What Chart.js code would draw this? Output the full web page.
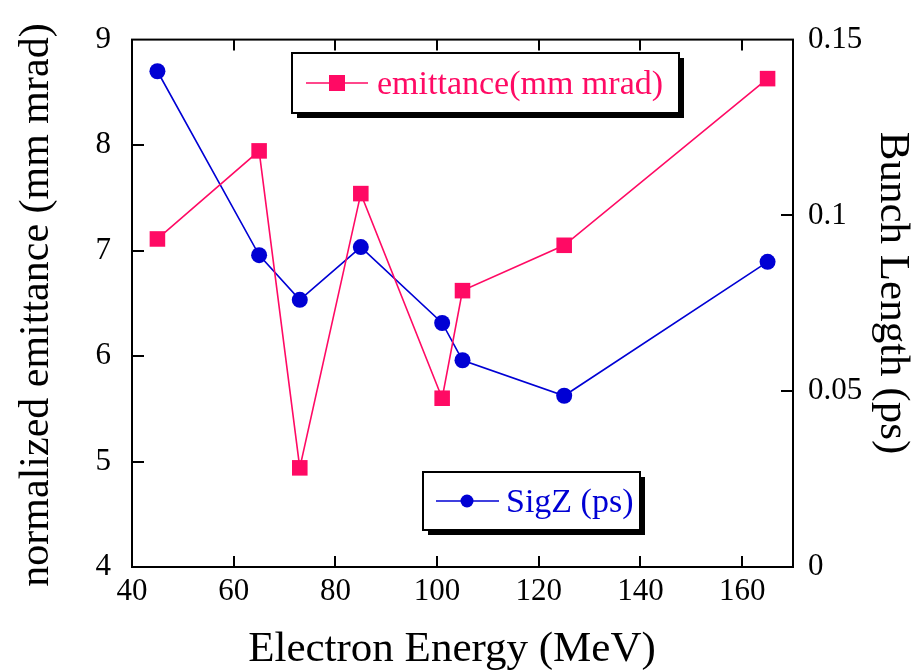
<!DOCTYPE html>
<html>
<head>
<meta charset="utf-8">
<script src="https://cdn.jsdelivr.net/npm/chart.js@4.4.1/dist/chart.umd.min.js"></script>
<style>
  html, body { margin: 0; padding: 0; background: #ffffff; }
  #wrap { width: 920px; height: 671px; }
</style>
</head>
<body>
<div id="wrap"><canvas id="c" width="920" height="671"></canvas></div>
<script>
// Measured beam data versus electron energy
const energies    = [45, 65, 73, 85, 101, 105, 125, 165];
const emittance   = [7.11, 7.945, 4.94, 7.54, 5.6, 6.62, 7.05, 8.63];
const bunchLength = [0.141, 0.0887, 0.076, 0.091, 0.0694, 0.0588, 0.0487, 0.0868];

// Axis ticks
const xTicks = [40, 60, 80, 100, 120, 140, 160];
const yTicks = [4, 5, 6, 7, 8, 9];
const y2Ticks = [0, 0.05, 0.1, 0.15];
const y2TickLabels = ['0', '0.05', '0.1', '0.15'];

const PINK = '#ff0a64';
const BLUE = '#0000d4';
const SERIF = '"Liberation Serif", "Times New Roman", serif';

const toPoints = (xs, ys) => xs.map((x, i) => ({ x, y: ys[i] }));
const fixedTicks = list => scale => { scale.ticks = list.map(v => ({ value: v })); };

// Frame, inward tick marks, axis titles and the two boxed legends
const decorations = {
  id: 'decorations',
  afterDraw(chart) {
    const { ctx, chartArea: a, scales } = chart;
    const xs = scales.x, ys = scales.y, y2 = scales.y2;
    ctx.save();
    ctx.strokeStyle = '#000';
    ctx.lineWidth = 2;
    ctx.strokeRect(a.left, a.top, a.right - a.left, a.bottom - a.top);

    ctx.beginPath();
    xTicks.slice(1).forEach(v => {
      const px = Math.round(xs.getPixelForValue(v));
      ctx.moveTo(px, a.bottom); ctx.lineTo(px, a.bottom - 11);
      ctx.moveTo(px, a.top);    ctx.lineTo(px, a.top + 11);
    });
    yTicks.slice(1, -1).forEach(v => {
      const py = Math.round(ys.getPixelForValue(v));
      ctx.moveTo(a.left, py); ctx.lineTo(a.left + 12, py);
    });
    y2Ticks.slice(1, -1).forEach(v => {
      const py = Math.round(y2.getPixelForValue(v));
      ctx.moveTo(a.right, py); ctx.lineTo(a.right - 12, py);
    });
    ctx.stroke();

    // Axis titles
    ctx.fillStyle = '#000';
    ctx.font = '43px ' + SERIF;
    ctx.textAlign = 'center';
    ctx.textBaseline = 'alphabetic';
    ctx.fillText('Electron Energy (MeV)', 452, 661);

    ctx.font = '42px ' + SERIF;
    ctx.save();
    ctx.translate(48, 305);
    ctx.rotate(-Math.PI / 2);
    ctx.fillText('normalized emittance (mm mrad)', 0, 0);
    ctx.restore();

    ctx.font = '43px ' + SERIF;
    ctx.save();
    ctx.translate(881, 293);
    ctx.rotate(Math.PI / 2);
    ctx.fillText('Bunch Length (ps)', 0, 0);
    ctx.restore();

    // Legend boxes
    const box = (x, y, w, h) => {
      ctx.fillStyle = '#000';
      ctx.fillRect(x + 5, y + 5, w, h);
      ctx.fillStyle = '#fff';
      ctx.fillRect(x, y, w, h);
      ctx.lineWidth = 2;
      ctx.strokeStyle = '#000';
      ctx.strokeRect(x, y, w, h);
    };

    const ds0 = chart.data.datasets[0], ds1 = chart.data.datasets[1];

    box(292, 53, 387, 60);
    ctx.strokeStyle = ds0.borderColor; ctx.lineWidth = 1.5;
    ctx.beginPath(); ctx.moveTo(306, 83); ctx.lineTo(368, 83); ctx.stroke();
    ctx.fillStyle = ds0.pointBackgroundColor;
    ctx.fillRect(337 - 8, 83 - 8, 16, 16);
    ctx.font = '34px ' + SERIF;
    ctx.textAlign = 'left';
    ctx.textBaseline = 'middle';
    ctx.fillText(ds0.label, 377, 85);

    box(423, 472, 217, 58);
    ctx.strokeStyle = ds1.borderColor; ctx.lineWidth = 1.5;
    ctx.beginPath(); ctx.moveTo(436, 501); ctx.lineTo(499, 501); ctx.stroke();
    ctx.fillStyle = ds1.pointBackgroundColor;
    ctx.beginPath(); ctx.arc(467, 501, 6.5, 0, Math.PI * 2); ctx.fill();
    ctx.fillText(ds1.label, 506, 503);

    ctx.restore();
  }
};

new Chart(document.getElementById('c'), {
  type: 'line',
  data: {
    datasets: [
      {
        label: 'emittance(mm mrad)',
        data: toPoints(energies, emittance),
        yAxisID: 'y',
        borderColor: PINK,
        backgroundColor: PINK,
        pointBackgroundColor: PINK,
        pointBorderColor: PINK,
        borderWidth: 1.6,
        pointStyle: 'rect',
        pointRadius: 11,
        pointBorderWidth: 0,
        tension: 0
      },
      {
        label: 'SigZ (ps)',
        data: toPoints(energies, bunchLength),
        yAxisID: 'y2',
        borderColor: BLUE,
        backgroundColor: BLUE,
        pointBackgroundColor: BLUE,
        pointBorderColor: BLUE,
        borderWidth: 1.6,
        pointStyle: 'circle',
        pointRadius: 8,
        pointBorderWidth: 0,
        tension: 0
      }
    ]
  },
  options: {
    responsive: false,
    animation: false,
    clip: false,
    layout: { padding: { left: 0, right: 0, top: 28, bottom: 0 } },
    plugins: { legend: { display: false }, tooltip: { enabled: false } },
    scales: {
      x: {
        type: 'linear',
        position: 'bottom',
        min: 40, max: 170,
        afterBuildTicks: fixedTicks(xTicks),
        afterFit: s => { s.height = 104; },
        grid: { display: false, drawTicks: false },
        border: { display: false },
        ticks: { color: '#000', padding: 6, font: { family: SERIF, size: 31 }, maxRotation: 0, autoSkip: false }
      },
      y: {
        type: 'linear',
        position: 'left',
        min: 4, max: 9,
        afterBuildTicks: fixedTicks(yTicks),
        afterFit: s => { s.width = 132; },
        grid: { display: false, drawTicks: false },
        border: { display: false },
        ticks: { color: '#000', padding: 21, font: { family: SERIF, size: 31 } }
      },
      y2: {
        type: 'linear',
        position: 'right',
        min: 0, max: 0.15,
        afterBuildTicks: fixedTicks(y2Ticks),
        afterFit: s => { s.width = 127; },
        grid: { display: false, drawTicks: false },
        border: { display: false },
        ticks: {
          color: '#000', padding: 15, font: { family: SERIF, size: 31 },
          callback: v => y2TickLabels[y2Ticks.indexOf(v)] ?? ''
        }
      }
    }
  },
  plugins: [decorations]
});
</script>
</body>
</html>
